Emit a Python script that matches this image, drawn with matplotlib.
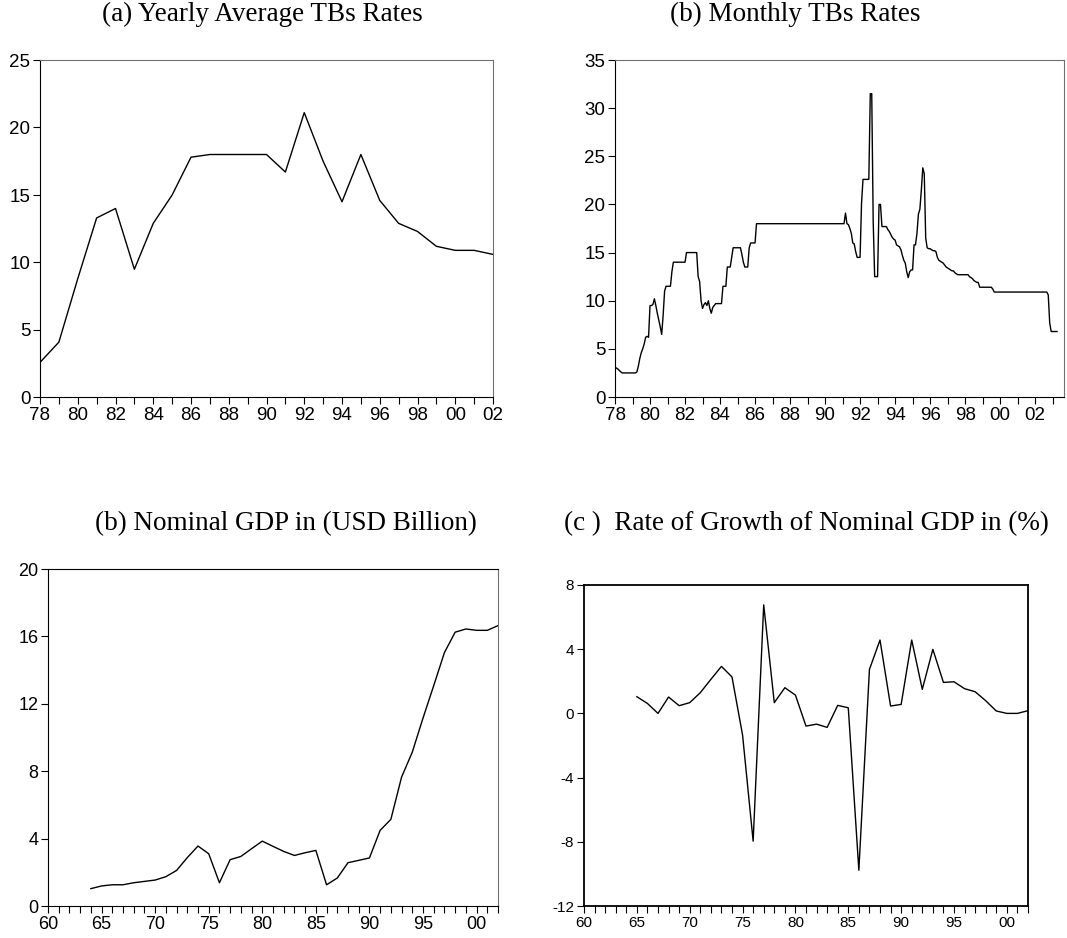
import numpy as np
import matplotlib
matplotlib.use("Agg")
import matplotlib.pyplot as plt
from matplotlib.ticker import FixedLocator, FuncFormatter

plt.rcParams['axes.unicode_minus'] = False

# (a) yearly average TB rates, 1978-2002
tb_years = list(range(1978, 2003))
tb_yearly = [2.6, 4.1, 8.8, 13.3, 14.0, 9.5, 12.9, 15.0, 17.8, 18.0,
             18.0, 18.0, 18.0, 16.7, 21.1, 17.5, 14.5, 18.0, 14.6, 12.9,
             12.3, 11.2, 10.9, 10.9, 10.6]

# (b) monthly TB rates, 1978M01 - 2003M04 (one row per year)
tb_monthly = [
    3.1, 3.0, 2.9, 2.75, 2.6, 2.5, 2.5, 2.5, 2.5, 2.5, 2.5, 2.5,            # 1978
    2.5, 2.5, 2.5, 2.6, 3.2, 4.0, 4.6, 5.0, 5.5, 6.2, 6.3, 6.2,             # 1979
    9.5, 9.5, 9.6, 10.2, 9.5, 8.7, 8.0, 7.3, 6.5, 8.5, 11.0, 11.5,          # 1980
    11.5, 11.5, 11.5, 13.0, 14.0, 14.0, 14.0, 14.0, 14.0, 14.0, 14.0, 14.0,  # 1981
    14.0, 15.0, 15.0, 15.0, 15.0, 15.0, 15.0, 15.0, 15.0, 12.5, 12.0, 10.0,  # 1982
    9.2, 9.6, 9.8, 9.5, 10.0, 9.2, 8.7, 9.3, 9.5, 9.7, 9.7, 9.7,            # 1983
    9.7, 9.7, 11.5, 11.5, 11.5, 13.5, 13.5, 13.5, 14.5, 15.5, 15.5, 15.5,    # 1984
    15.5, 15.5, 15.5, 14.8, 14.0, 13.5, 13.5, 13.5, 15.5, 16.0, 16.0, 16.0,  # 1985
    16.0, 18.0, 18.0, 18.0, 18.0, 18.0, 18.0, 18.0, 18.0, 18.0, 18.0, 18.0,  # 1986
    18.0, 18.0, 18.0, 18.0, 18.0, 18.0, 18.0, 18.0, 18.0, 18.0, 18.0, 18.0,  # 1987
    18.0, 18.0, 18.0, 18.0, 18.0, 18.0, 18.0, 18.0, 18.0, 18.0, 18.0, 18.0,  # 1988
    18.0, 18.0, 18.0, 18.0, 18.0, 18.0, 18.0, 18.0, 18.0, 18.0, 18.0, 18.0,  # 1989
    18.0, 18.0, 18.0, 18.0, 18.0, 18.0, 18.0, 18.0, 18.0, 18.0, 18.0, 18.0,  # 1990
    18.0, 18.0, 19.1, 18.0, 17.9, 17.5, 17.0, 16.0, 15.9, 15.1, 14.5, 14.5,  # 1991
    14.5, 20.1, 22.6, 22.6, 22.6, 22.6, 22.6, 31.5, 31.5, 18.2, 12.5, 12.5,  # 1992
    12.5, 20.0, 20.0, 17.7, 17.7, 17.7, 17.7, 17.4, 17.2, 16.9, 16.6, 16.4,  # 1993
    16.3, 15.8, 15.7, 15.6, 15.3, 14.7, 14.2, 13.9, 13.0, 12.4, 13.0, 13.2,  # 1994
    13.2, 15.8, 15.8, 17.0, 19.0, 19.5, 21.5, 23.8, 23.2, 16.5, 15.5, 15.4,  # 1995
    15.4, 15.3, 15.2, 15.2, 15.1, 14.5, 14.2, 14.1, 14.0, 13.9, 13.7, 13.5,  # 1996
    13.4, 13.3, 13.2, 13.1, 13.1, 12.9, 12.8, 12.7, 12.7, 12.7, 12.7, 12.7,  # 1997
    12.7, 12.7, 12.7, 12.5, 12.4, 12.3, 12.1, 12.0, 11.9, 11.9, 11.4, 11.4,  # 1998
    11.4, 11.4, 11.4, 11.4, 11.4, 11.4, 11.4, 11.2, 10.9, 10.9, 10.9, 10.9,  # 1999
    10.9, 10.9, 10.9, 10.9, 10.9, 10.9, 10.9, 10.9, 10.9, 10.9, 10.9, 10.9,  # 2000
    10.9, 10.9, 10.9, 10.9, 10.9, 10.9, 10.9, 10.9, 10.9, 10.9, 10.9, 10.9,  # 2001
    10.9, 10.9, 10.9, 10.9, 10.9, 10.9, 10.9, 10.9, 10.9, 10.6, 7.7, 6.8,    # 2002
    6.8, 6.8, 6.8, 6.8,                                                      # 2003
]

# (c) nominal GDP in USD billion, 1964-2002
gdp_years = list(range(1964, 2003))
gdp = [1.03, 1.19, 1.26, 1.26, 1.38, 1.46, 1.54, 1.74, 2.11, 2.87,
       3.56, 3.10, 1.38, 2.75, 2.94, 3.40, 3.85, 3.54, 3.24, 3.00,
       3.16, 3.30, 1.26, 1.66, 2.57, 2.71, 2.85, 4.49, 5.14, 7.65,
       9.13, 11.15, 13.08, 15.04, 16.25, 16.44, 16.36, 16.36, 16.64]

# (d) growth rate of nominal GDP in %, 1965-2002
gr_years = list(range(1965, 2003))
growth = [1.04, 0.62, 0.0, 1.02, 0.48, 0.67, 1.29, 2.12, 2.93, 2.27,
          -1.35, -7.96, 6.76, 0.67, 1.60, 1.14, -0.79, -0.67, -0.87, 0.50,
          0.35, -9.77, 2.74, 4.57, 0.46, 0.56, 4.57, 1.50, 3.99, 1.93,
          1.97, 1.54, 1.35, 0.79, 0.15, 0.0, 0.0, 0.17]

W, H = 1067, 938
fig = plt.figure(figsize=(W / 100, H / 100), dpi=100)


def box(l, t, r, b):
    return [l / W, 1 - b / H, (r - l) / W, (b - t) / H]


yy = FuncFormatter(lambda v, p: "%02d" % (int(round(v)) % 100))


def style(ax, fs, top_c, right_c, lw=0.8):
    ax.spines['left'].set_color('black')
    ax.spines['bottom'].set_color('black')
    ax.spines['top'].set_color(top_c)
    ax.spines['right'].set_color(right_c)
    for s in ax.spines.values():
        s.set_linewidth(lw)
    ax.tick_params(axis='both', which='both', direction='out', length=5,
                   width=0.8, labelsize=fs, pad=2)
    ax.tick_params(axis='x', which='minor', length=5)
    for lab in ax.get_xticklabels() + ax.get_yticklabels():
        lab.set_family('Liberation Sans')


tfont = dict(family='Liberation Serif', fontsize=19.5)

# (a)
ax1 = fig.add_axes(box(40, 60, 493, 397.5))
x = np.array(tb_years, dtype=float)
ax1.plot(x, tb_yearly, color='black', lw=1.0)
ax1.set_xlim(1978, 2002)
ax1.set_ylim(0, 25)
ax1.set_yticks([0, 5, 10, 15, 20, 25])
ax1.xaxis.set_major_locator(FixedLocator(list(range(1978, 2003, 2))))
ax1.xaxis.set_minor_locator(FixedLocator(list(range(1978, 2003))))
ax1.xaxis.set_major_formatter(yy)
style(ax1, 13.5, '#707070', '#707070')
fig.text(262 / W, 1 - 21 / H, "(a) Yearly Average TBs Rates", ha='center',
         va='baseline', **tfont)

# (b)
ax2 = fig.add_axes(box(615, 60, 1064, 397))
xm = 1978 + np.arange(len(tb_monthly)) / 12.0
ax2.plot(xm, tb_monthly, color='black', lw=1.0)
ax2.set_xlim(1978, 2003.65)
ax2.set_ylim(0, 35)
ax2.set_yticks([0, 5, 10, 15, 20, 25, 30, 35])
ax2.xaxis.set_major_locator(FixedLocator(list(range(1978, 2003, 2))))
ax2.xaxis.set_minor_locator(FixedLocator(list(range(1978, 2004))))
ax2.xaxis.set_major_formatter(yy)
style(ax2, 13.5, '#707070', '#707070')
fig.text(795 / W, 1 - 21 / H, "(b) Monthly TBs Rates", ha='center',
         va='baseline', **tfont)

# (c)
ax3 = fig.add_axes(box(48, 569, 498, 906))
ax3.plot(gdp_years, gdp, color='black', lw=1.0)
ax3.set_xlim(1960, 2002)
ax3.set_ylim(0, 20)
ax3.set_yticks([0, 4, 8, 12, 16, 20])
ax3.xaxis.set_major_locator(FixedLocator(list(range(1960, 2001, 5))))
ax3.xaxis.set_minor_locator(FixedLocator(list(range(1960, 2003))))
ax3.xaxis.set_major_formatter(yy)
style(ax3, 13, 'black', '#707070')
fig.text(286 / W, 1 - 530 / H, "(b) Nominal GDP in (USD Billion)", ha='center',
         va='baseline', **tfont)

# (d)
ax4 = fig.add_axes(box(584, 585, 1028, 906))
ax4.plot(gr_years, growth, color='black', lw=1.0)
ax4.set_xlim(1960, 2002)
ax4.set_ylim(-12, 8)
ax4.set_yticks([-12, -8, -4, 0, 4, 8])
ax4.xaxis.set_major_locator(FixedLocator(list(range(1960, 2001, 5))))
ax4.xaxis.set_minor_locator(FixedLocator(list(range(1960, 2003))))
ax4.xaxis.set_major_formatter(yy)
style(ax4, 11, 'black', 'black', lw=1.3)
fig.text(806 / W, 1 - 530 / H, "(c )  Rate of Growth of Nominal GDP in (%)",
         ha='center', va='baseline', **tfont)

fig.savefig("out.png", dpi=100)
